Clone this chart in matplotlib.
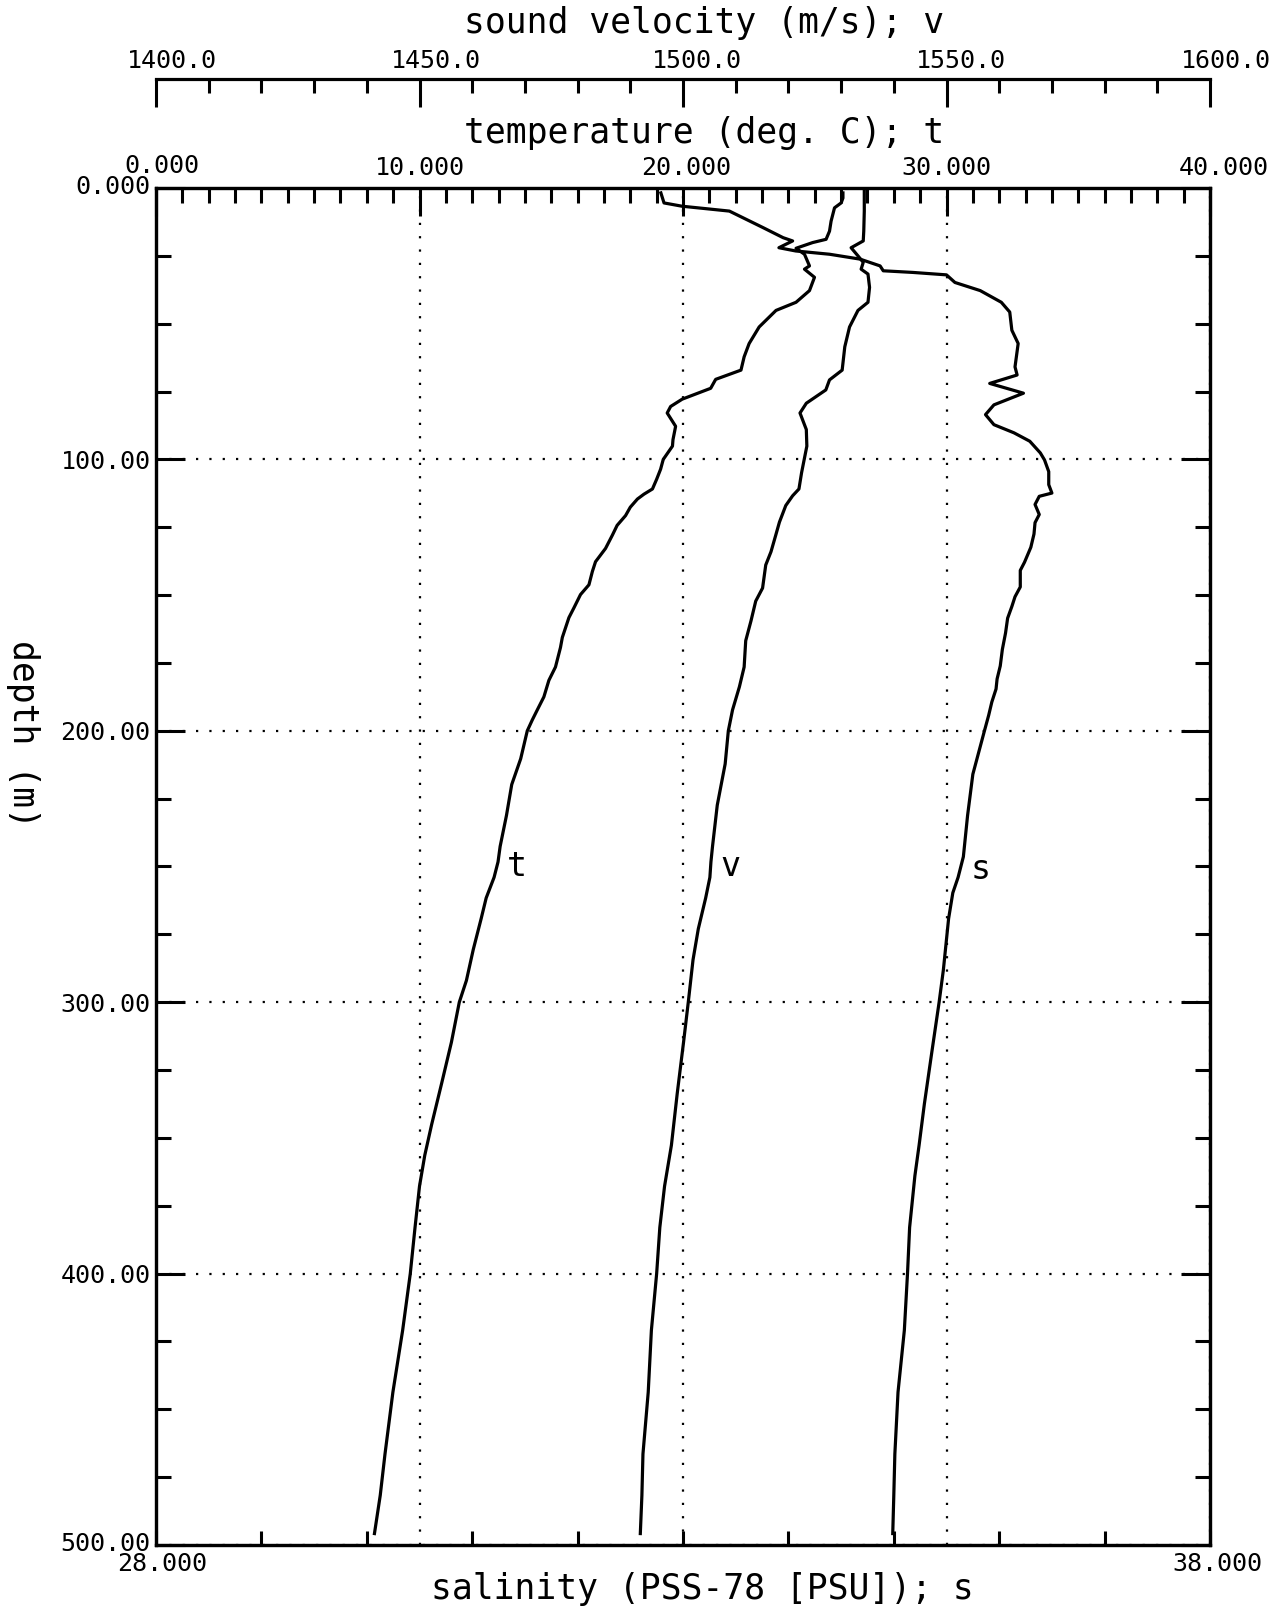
import matplotlib
matplotlib.use("Agg")
import matplotlib.pyplot as plt
from matplotlib.ticker import MultipleLocator
from matplotlib.transforms import ScaledTranslation

plt.rcParams["font.family"] = ["DejaVu Sans Mono", "DejaVu Sans"]

# temperature profile (deg C) vs depth (m)
temp_depth = [1.8, 3.7, 5.5, 7.3, 12.2, 15.9, 18.9, 20.1, 22.2, 24.4, 28.7, 29.9, 32.9, 37.8, 42.1,
              45.1, 51.2, 57.3, 62.2, 67.1, 70.5, 73.8, 77.8, 80.5, 82.9, 87.8, 92.7, 95.1, 100.0,
              103.6, 107.3, 110.9, 112.8, 114.6, 117.6, 120.7, 124.3, 127.9, 132.8, 137.7, 141.3,
              146.2, 149.8, 154.7, 158.3, 165.6, 169.3, 176.5, 181.4, 187.5, 192.3, 196.0, 200.0,
              210.3, 219.8, 231.2, 242.6, 248.3, 254.0, 261.6, 269.2, 280.6, 292.0, 300.0, 314.8,
              329.9, 345.1, 356.4, 367.8, 383.0, 400.0, 420.9, 443.7, 466.5, 481.7, 495.8]
temp = [26.07, 26.07, 26.00, 25.75, 25.62, 25.56, 25.43, 24.92, 24.29, 24.61, 24.80, 24.61, 24.99,
        24.80, 24.29, 23.53, 22.89, 22.51, 22.32, 22.20, 21.24, 21.05, 19.97, 19.53, 19.40, 19.72,
        19.62, 19.60, 19.25, 19.15, 19.00, 18.84, 18.52, 18.27, 18.00, 17.82, 17.50, 17.32, 17.06,
        16.68, 16.56, 16.43, 16.11, 15.86, 15.67, 15.42, 15.35, 15.16, 14.91, 14.72, 14.47, 14.28,
        14.09, 13.84, 13.50, 13.30, 13.06, 12.98, 12.83, 12.53, 12.34, 12.04, 11.78, 11.51, 11.21,
        10.84, 10.46, 10.20, 10.00, 9.83, 9.65, 9.36, 8.99, 8.69, 8.51, 8.29]

# sound velocity (m/s) vs depth
vel_depth = [1.2, 8.5, 15.9, 19.5, 22.0, 25.0, 27.4, 29.9, 31.7, 36.6, 42.1, 45.1, 51.2, 58.5, 67.1,
             70.7, 74.4, 79.3, 82.9, 89.0, 95.1, 100.0, 104.9, 110.9, 113.4, 117.0, 123.1, 127.9,
             134.0, 138.9, 147.4, 152.2, 159.5, 166.8, 176.5, 183.8, 192.3, 200.0, 212.2, 227.4,
             242.6, 248.3, 254.0, 261.6, 273.0, 284.4, 300.0, 314.8, 333.7, 352.7, 367.8, 383.0,
             400.0, 420.9, 443.7, 466.5, 481.7, 495.8]
velocity = [1534.4, 1534.4, 1534.3, 1534.2, 1531.9, 1533.2, 1534.2, 1533.8, 1535.1, 1535.4, 1535.1,
            1533.2, 1531.6, 1530.7, 1530.2, 1527.8, 1527.1, 1523.4, 1522.2, 1523.4, 1523.5, 1523.0,
            1522.5, 1522.0, 1520.8, 1519.5, 1518.3, 1517.6, 1516.7, 1515.7, 1515.1, 1513.8, 1512.9,
            1511.9, 1511.6, 1510.7, 1509.4, 1508.6, 1508.0, 1506.5, 1505.6, 1505.3, 1505.1, 1504.3,
            1502.9, 1501.9, 1501.0, 1500.1, 1498.9, 1497.8, 1496.5, 1495.6, 1495.0, 1494.0, 1493.4,
            1492.4, 1492.2, 1491.9]

# salinity (PSU) vs depth
sal_depth = [1.8, 5.5, 6.7, 8.5, 14.6, 18.3, 19.5, 22.0, 23.2, 24.4, 26.2, 28.7, 30.5, 31.1, 32.0,
             34.8, 37.8, 42.1, 45.7, 52.4, 57.3, 65.9, 68.9, 72.0, 75.6, 79.9, 83.5, 87.2, 90.2,
             93.3, 97.6, 100.2, 104.5, 109.3, 112.4, 113.6, 116.6, 120.3, 123.3, 127.5, 132.4,
             137.9, 140.9, 147.0, 150.6, 154.2, 158.5, 164.0, 170.0, 176.1, 180.9, 184.6, 189.4,
             194.3, 200.0, 216.0, 231.2, 246.4, 254.0, 259.7, 269.2, 288.2, 300.0, 318.6, 337.5,
             352.7, 364.0, 383.0, 400.0, 420.9, 443.7, 466.5, 481.7, 495.8]
salinity = [32.79, 32.82, 32.99, 33.44, 33.76, 33.95, 34.04, 33.91, 34.07, 34.39, 34.68, 34.87,
            34.90, 35.18, 35.50, 35.58, 35.82, 36.02, 36.10, 36.12, 36.18, 36.15, 36.17, 35.91,
            36.23, 35.95, 35.87, 35.95, 36.14, 36.29, 36.39, 36.43, 36.47, 36.47, 36.50, 36.38,
            36.34, 36.38, 36.34, 36.33, 36.30, 36.24, 36.20, 36.20, 36.15, 36.12, 36.08, 36.06,
            36.03, 36.01, 35.98, 35.97, 35.93, 35.90, 35.86, 35.75, 35.70, 35.66, 35.61, 35.56,
            35.52, 35.47, 35.43, 35.36, 35.29, 35.24, 35.20, 35.15, 35.13, 35.10, 35.04, 35.01,
            35.00, 34.99]

depth_ticks = [0, 100, 200, 300, 400, 500]
depth_labels = ["0.000", "100.00", "200.00", "300.00", "400.00", "500.00"]
temp_ticks = [0, 10, 20, 30, 40]
temp_labels = ["0.000", "10.000", "20.000", "30.000", "40.000"]
vel_ticks = [1400, 1450, 1500, 1550, 1600]
vel_labels = ["1400.0", "1450.0", "1500.0", "1550.0", "1600.0"]
sal_ticks = [28, 29, 30, 31, 32, 33, 34, 35, 36, 37, 38]
sal_labels = ["28.000", "", "", "", "", "", "", "", "", "", "38.000"]

fig = plt.figure(figsize=(12.83, 16.07), dpi=100)
ax = fig.add_axes([0.1216, 0.0386, 0.8215, 0.8444])
ax_s = ax.twiny()
ax_v = ax.twiny()

lw = 2.3
ax.plot(temp, temp_depth, color="black", lw=lw)
ax_v.plot(velocity, vel_depth, color="black", lw=lw)
ax_s.plot(salinity, sal_depth, color="black", lw=lw)

ax.set_ylim(500, 0)
ax.set_xlim(0, 40)
ax_v.set_xlim(1400, 1600)
ax_s.set_xlim(28, 38)

for a in (ax, ax_s, ax_v):
    for sp in a.spines.values():
        sp.set_linewidth(2.3)

tick_fs = 18
title_fs = 25

# temperature along the top of the box
ax.xaxis.tick_top()
ax.xaxis.set_label_position("top")
ax.set_xticks(temp_ticks)
ax.set_xticklabels(temp_labels)
ax.xaxis.set_minor_locator(MultipleLocator(1))
ax.tick_params(axis="x", which="major", direction="in", length=20, width=2.2, pad=5.5,
               labelsize=tick_fs, top=True, bottom=False, labeltop=True, labelbottom=False)
ax.tick_params(axis="x", which="minor", direction="in", length=11, width=2.2, top=True, bottom=False)
ax.set_xlabel("temperature (deg. C); t", fontsize=title_fs, va="center")
ax.xaxis.set_label_coords(0.52, 1.0405)

# depth
ax.set_yticks(depth_ticks)
ax.set_yticklabels(depth_labels)
ax.yaxis.set_minor_locator(MultipleLocator(25))
ax.tick_params(axis="y", which="major", direction="in", length=21, width=2.2, pad=4,
               labelsize=tick_fs, left=True, right=True)
ax.tick_params(axis="y", which="minor", direction="in", length=11, width=2.2, left=True, right=True)
ax.set_ylabel("depth (m)", fontsize=title_fs, rotation=270, va="center", ha="center")
ax.yaxis.set_label_coords(-0.126, 0.598)

ax.grid(True, which="major", color="black", linestyle=(0, (1, 5)), linewidth=1.6)

# salinity along the bottom
ax_s.xaxis.tick_bottom()
ax_s.xaxis.set_label_position("bottom")
ax_s.set_xticks(sal_ticks)
ax_s.set_xticklabels(sal_labels)
ax_s.tick_params(axis="x", which="major", direction="in", length=10, width=2.2, pad=5,
                 labelsize=tick_fs, top=False, bottom=True, labelbottom=True, labeltop=False)
ax_s.set_xlabel("salinity (PSS-78 [PSU]); s", fontsize=title_fs, va="center")
ax_s.xaxis.set_label_coords(0.518, -0.0325)

# sound velocity on a detached line above
ax_v.spines["top"].set_position(("axes", 1.0803))
for side in ("left", "right", "bottom"):
    ax_v.spines[side].set_visible(False)
ax_v.set_xticks(vel_ticks)
ax_v.set_xticklabels(vel_labels)
ax_v.xaxis.set_minor_locator(MultipleLocator(10))
ax_v.tick_params(axis="x", which="major", direction="in", length=20, width=2.2, pad=4.5,
                 labelsize=tick_fs, top=True, bottom=False, labeltop=True, labelbottom=False)
ax_v.tick_params(axis="x", which="minor", direction="in", length=10, width=2.2, top=True, bottom=False)
ax_v.set_xlabel("sound velocity (m/s); v", fontsize=title_fs, va="center")
ax_v.xaxis.set_label_coords(0.52, 1.1216)


def shift(labels, dxs, dys=None):
    dys = dys or [0] * len(dxs)
    for lab, dx, dy in zip(labels, dxs, dys):
        lab.set_transform(lab.get_transform() + ScaledTranslation(dx / 100, dy / 100, fig.dpi_scale_trans))


shift(ax_v.get_xticklabels(), [16, 16, 14, 14, 16])
shift(ax.get_xticklabels(), [6, 0, 3, 0, 14], [2, 0, 0, 0, 0])
shift(ax_s.get_xticklabels(), [6] + [0] * 9 + [7])
shift(ax.get_yticklabels(), [0] * 6, [4, 0, 0, 0, 0, 3])

# curve labels
ax.text(13.7, 250, "t", fontsize=24, ha="center", va="center")
ax.text(21.8, 250, "v", fontsize=24, ha="center", va="center")
ax.text(31.3, 251, "s", fontsize=24, ha="center", va="center")

fig.savefig("out.png", dpi=100)
